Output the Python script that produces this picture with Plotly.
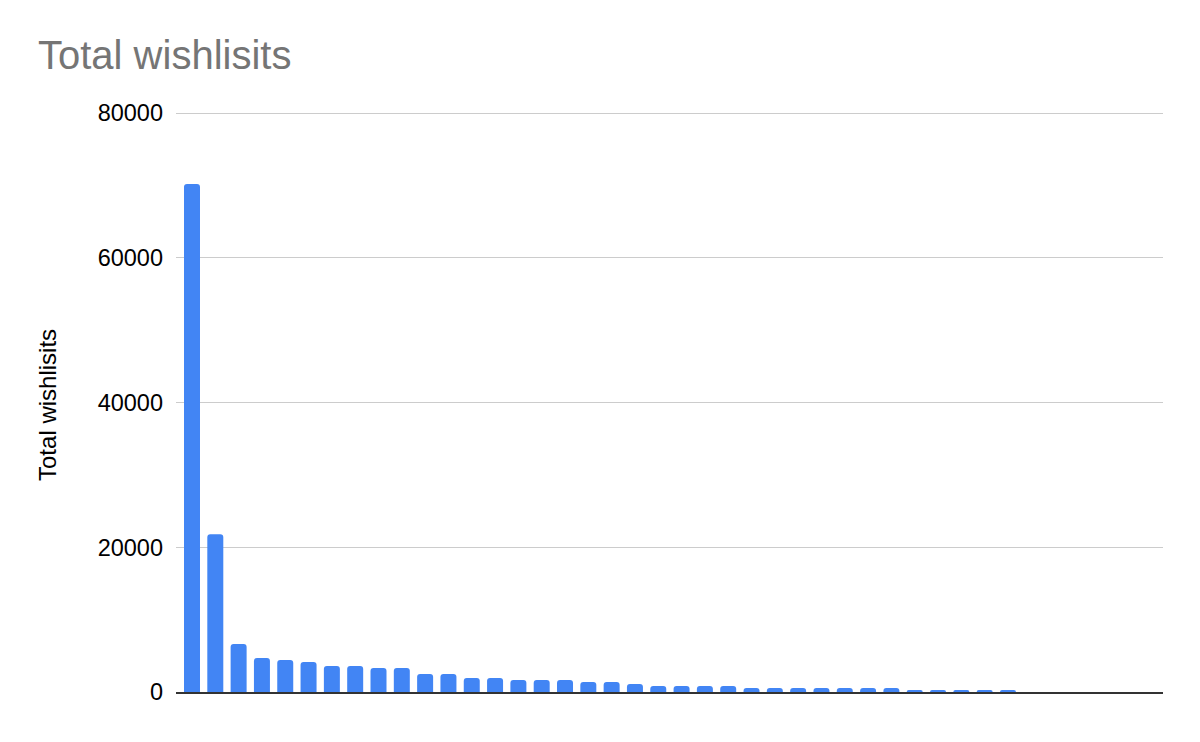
import plotly.graph_objects as go

# wishlists per item, sorted descending (no category labels shown on the chart)
wishlists = [70200, 21800, 6630, 4700, 4420, 4150, 3590, 3590, 3320, 3320,
             2490, 2490, 1930, 1930, 1660, 1660, 1660, 1380, 1380, 1100,
             830, 830, 830, 830, 550, 550, 550, 550, 550, 550,
             550, 280, 280, 280, 280, 280]
rank = list(range(1, len(wishlists) + 1))

y_ticks = [0, 20000, 40000, 60000, 80000]

BAR_COLOR = '#4285F4'
FONT = 'Arial, Liberation Sans, sans-serif'

fig = go.Figure()
fig.add_trace(go.Bar(x=rank, y=wishlists, marker=dict(color=BAR_COLOR, line=dict(width=0)),
                     width=0.686, name='Total wishlisits'))

# page body adds 8px around the figure, so size/margins are shifted by that
fig.update_layout(
    width=1192, height=734,
    margin=dict(l=168, r=37, t=103, b=50),
    paper_bgcolor='white', plot_bgcolor='white',
    showlegend=False,
    barcornerradius=3,
    font=dict(family=FONT, color='black'),
    title=dict(text='Total wishlisits', x=30 / 1192, xanchor='left',
               yref='container', y=1 - 47 / 734, yanchor='middle',
               font=dict(size=40, color='#757575', family=FONT)),
)

fig.update_xaxes(range=[1 - 0.686, 1 + 41.65], showticklabels=False, showgrid=False,
                 zeroline=False, showline=True, linecolor='#333333', linewidth=2,
                 ticks='', fixedrange=True)
# top of range a bit above 80000 so its gridline is drawn
fig.update_yaxes(range=[0, 80300], tickvals=y_ticks, tickformat='d', showgrid=True,
                 gridcolor='#cccccc', gridwidth=1, zeroline=False, showline=False,
                 ticks='', ticklabelstandoff=12, tickfont=dict(size=23.5, color='black'))

# y axis title as an annotation so it sits where the reference has it
fig.add_annotation(text='Total wishlisits', xref='paper', yref='paper',
                   x=(48 - 176) / 987, y=0.494, textangle=-90, showarrow=False,
                   xanchor='center', yanchor='middle',
                   font=dict(size=24, color='black', family=FONT))

fig.write_html("out.html")
